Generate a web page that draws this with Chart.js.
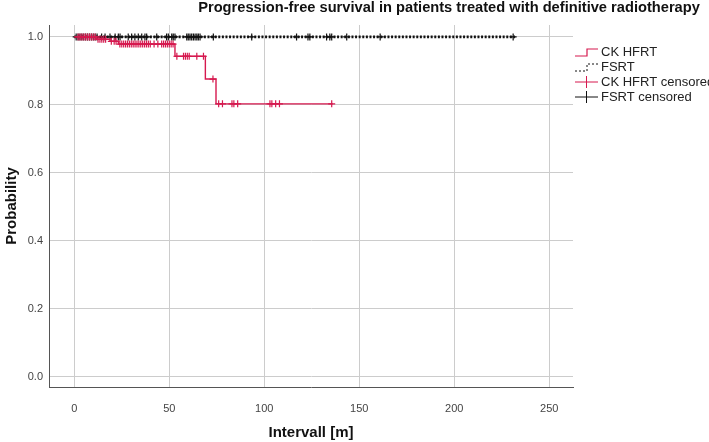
<!DOCTYPE html>
<html>
<head>
<meta charset="utf-8">
<script src="https://cdn.jsdelivr.net/npm/chart.js@4.4.1/dist/chart.umd.min.js"></script>
<style>
  html, body { margin: 0; padding: 0; background: #ffffff; }
  #wrap { width: 709px; height: 442px; }
</style>
</head>
<body>
<div id="wrap"><canvas id="c" width="709" height="442"></canvas></div>
<script>
// ---------- data ----------
const chartTitle = 'Progression-free survival in patients treated with definitive radiotherapy';
const xAxisTitle = 'Intervall [m]';
const yAxisTitle = 'Probability';
const xTickValues = [0, 50, 100, 150, 200, 250];
const yTickValues = [0.0, 0.2, 0.4, 0.6, 0.8, 1.0];
const seriesNames = ['CK HFRT', 'FSRT', 'CK HFRT censored', 'FSRT censored'];

// CK HFRT step curve (time in months, survival probability)
const ckTimes = [0, 11.7, 18.8, 23.2, 53, 69, 74.6, 136];
const ckSurv  = [1.0, 0.993, 0.987, 0.979, 0.943, 0.876, 0.803, 0.803];
// CK HFRT censoring times
const ckCensorTimes = [2, 3, 4, 5, 6, 7, 8, 9, 10, 11,
  12.5, 13.5, 14.5, 15.5, 16.5, 19.5, 21, 22,
  24, 25, 26, 27, 28, 29, 30, 31, 32, 33, 34, 35, 36, 37, 38, 39, 40, 42, 44, 46, 47, 48, 49, 50, 51, 52,
  54, 57.5, 58.5, 59.5, 60.5, 64.5, 68,
  73,
  76, 78, 83, 84, 86, 103, 104, 106, 108, 135.5];

// FSRT step curve
const fsTimes = [0, 232];
const fsSurv  = [1.0, 1.0];
// FSRT censoring times
const fsCensorTimes = [1, 2, 3, 4, 5, 6, 7, 8, 9, 10, 11, 12,
  14.4, 16.2, 18.8, 21.5, 23.2, 24.1, 28.4, 30.2, 31.9, 33.7, 35.5, 37.2, 38.1, 43.4,
  48.6, 49.5, 51.3, 52.1, 53, 59.2, 60, 60.9, 61.8, 62.7, 63.6, 64.5, 65.3, 66.2,
  73.2, 93.4, 117, 123, 124, 132.8, 134.5, 135.5, 143.4, 161, 231];

// ---------- helpers ----------
function stepValue(times, surv, t) {
  let v = surv[0];
  for (let i = 0; i < times.length; i++) { if (times[i] <= t) v = surv[i]; }
  return v;
}
const RED = '#d6194f';
const BLACK = '#111111';
const FONT = "'Liberation Sans', Arial, sans-serif";

const ckLine = ckTimes.map((t, i) => ({ x: t, y: ckSurv[i] }));
const fsLine = fsTimes.map((t, i) => ({ x: t, y: fsSurv[i] }));
const ckCens = ckCensorTimes.map(t => ({ x: t, y: stepValue(ckTimes, ckSurv, t) }));
const fsCens = fsCensorTimes.map(t => ({ x: t, y: stepValue(fsTimes, fsSurv, t) }));

// ---------- plugins: title and legend ----------
const titlePlugin = {
  id: 'kmTitle',
  afterDraw(chart) {
    const ctx = chart.ctx;
    ctx.save();
    let size = 14;
    ctx.font = `bold ${size}px ${FONT}`;
    const w = ctx.measureText(chartTitle).width;
    size = size * 502 / w;
    ctx.font = `bold ${size.toFixed(2)}px ${FONT}`;
    ctx.fillStyle = '#111';
    ctx.textAlign = 'center';
    ctx.textBaseline = 'middle';
    ctx.fillText(chartTitle, 449, 8);
    ctx.restore();
  }
};

const legendPlugin = {
  id: 'kmLegend',
  afterDraw(chart) {
    const ctx = chart.ctx;
    const x0 = 575, x1 = 598, tx = 601;
    const ys = [52, 67, 82, 97];
    ctx.save();
    ctx.font = `13px ${FONT}`;
    ctx.textBaseline = 'middle';
    ctx.textAlign = 'left';
    // CK HFRT: step icon
    ctx.strokeStyle = RED; ctx.lineWidth = 1.2; ctx.setLineDash([]);
    ctx.beginPath();
    ctx.moveTo(x0, ys[0] + 4); ctx.lineTo(x0 + 12, ys[0] + 4); ctx.lineTo(x0 + 12, ys[0] - 3); ctx.lineTo(x1, ys[0] - 3);
    ctx.stroke();
    // FSRT: dotted step icon
    ctx.strokeStyle = BLACK; ctx.lineWidth = 1; ctx.setLineDash([2, 2]);
    ctx.beginPath();
    ctx.moveTo(x0, ys[1] + 4); ctx.lineTo(x0 + 12, ys[1] + 4); ctx.lineTo(x0 + 12, ys[1] - 3); ctx.lineTo(x1, ys[1] - 3);
    ctx.stroke();
    ctx.setLineDash([]);
    // censored crosses
    [[RED, ys[2]], [BLACK, ys[3]]].forEach(([col, y]) => {
      ctx.strokeStyle = col; ctx.lineWidth = 1;
      ctx.beginPath();
      ctx.moveTo(x0, y); ctx.lineTo(x1, y);
      ctx.moveTo((x0 + x1) / 2, y - 6); ctx.lineTo((x0 + x1) / 2, y + 6);
      ctx.stroke();
    });
    ctx.fillStyle = '#222';
    seriesNames.forEach((n, i) => ctx.fillText(n, tx, ys[i]));
    ctx.restore();
  }
};

// ---------- chart ----------
new Chart(document.getElementById('c'), {
  type: 'line',
  data: {
    datasets: [
      { label: seriesNames[3], data: fsCens, showLine: false, pointStyle: 'cross',
        pointRadius: 3.5, pointBorderWidth: 1.2, pointBorderColor: BLACK, borderColor: BLACK, order: 4 },
      { label: seriesNames[1], data: fsLine, stepped: true, borderColor: BLACK, borderWidth: 2.6,
        borderDash: [2, 1.6], pointRadius: 0, fill: false, order: 3 },
      { label: seriesNames[0], data: ckLine, stepped: true, borderColor: RED, borderWidth: 1.4,
        pointRadius: 0, fill: false, order: 2 },
      { label: seriesNames[2], data: ckCens, showLine: false, pointStyle: 'cross',
        pointRadius: 3.5, pointBorderWidth: 1.2, pointBorderColor: RED, borderColor: RED, order: 1 }
    ]
  },
  options: {
    responsive: false,
    animation: false,
    layout: { padding: { left: 0, right: 136, top: 25, bottom: 0 } },
    plugins: { legend: { display: false }, title: { display: false }, tooltip: { enabled: false } },
    scales: {
      x: {
        type: 'linear', min: -13.3, max: 262.5,
        afterBuildTicks: s => { s.ticks = xTickValues.map(v => ({ value: v })); },
        afterFit: s => { s.height = 55; },
        grid: { color: '#cccccc', lineWidth: 1, drawTicks: false },
        border: { display: true, color: '#555555', width: 1 },
        ticks: { padding: 15, color: '#444', font: { size: 11, family: FONT }, maxRotation: 0,
          callback: v => String(v) },
        title: { display: true, text: xAxisTitle, color: '#111', font: { size: 15, weight: 'bold', family: FONT },
          padding: { top: 0, bottom: 0 } }
      },
      y: {
        type: 'linear', min: -0.03, max: 1.035,
        afterBuildTicks: s => { s.ticks = yTickValues.map(v => ({ value: v })); },
        afterFit: s => { s.width = 49; },
        grid: { color: '#cccccc', lineWidth: 1, drawTicks: false },
        border: { display: true, color: '#555555', width: 1 },
        ticks: { padding: 6, color: '#444', font: { size: 11, family: FONT },
          callback: v => Number(v).toFixed(1) },
        title: { display: true, text: yAxisTitle, color: '#111', font: { size: 15, weight: 'bold', family: FONT },
          padding: { top: 3, bottom: 0 } }
      }
    }
  },
  plugins: [titlePlugin, legendPlugin]
});
</script>
</body>
</html>
